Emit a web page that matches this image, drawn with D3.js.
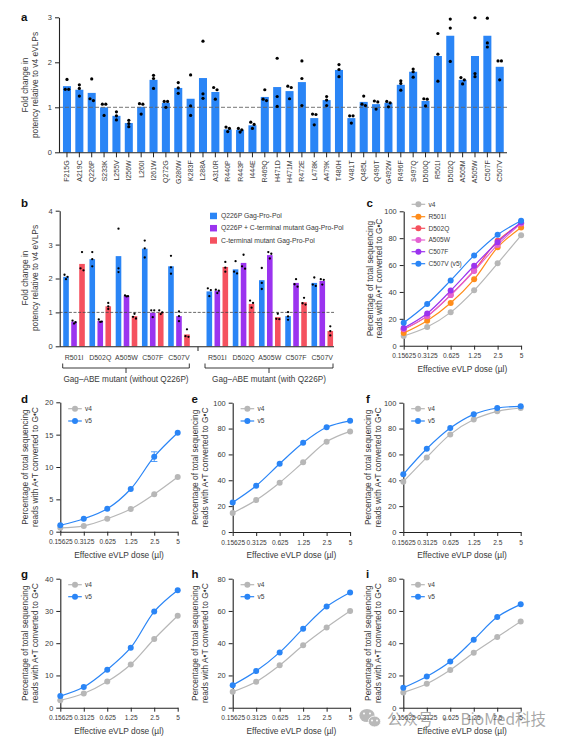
<!DOCTYPE html>
<html><head><meta charset="utf-8">
<script src="https://cdn.jsdelivr.net/npm/d3@7"></script>
<style>
html,body{margin:0;padding:0;background:#fff}
svg{display:block}
text{font-family:"Liberation Sans",Arial,sans-serif;fill:#3a3a3a}
</style></head><body>
<svg id="c" width="564" height="742"></svg>
<script>
// ---------- panel a ----------
const aVariants=["F215G","A219C","Q226P","S233K","L255V","I256W","L260I","I261W","Q272G","G280W","K283F","L288A","A310R","R440P","R443P","I444E","R469Q","H471D","H471M","R472E","L478K","A479K","T480H","V481T","Q485L","Q490T","G492W","R496F","S497Q","D500Q","R501I","D502Q","A505M","A505W","C507F","C507V"];
const aBars=[1.47,1.39,1.32,1.0,0.81,0.65,1.01,1.61,1.1,1.43,1.19,1.65,1.34,0.51,0.5,0.6,1.23,1.45,1.36,1.56,0.76,1.16,1.83,0.76,1.12,1.07,1.1,1.5,1.79,1.14,2.14,2.59,1.61,2.14,2.59,1.9];
const aPoints=[[1.62,1.40,1.40],[1.5,1.42,1.25],[1.63,1.19,1.15],[1.07,1.07,0.82],[0.9,0.81,0.72],[0.71,0.64,0.57],[1.08,1.07,0.85],[1.71,1.64,1.42],[1.13,1.13,1.0],[1.55,1.43,1.31],[1.72,1.03,0.82],[2.47,1.3,1.2],[1.44,1.39,1.18],[0.56,0.53,0.46],[0.53,0.5,0.45],[0.67,0.62,0.53],[1.39,1.18,1.15],[2.09,1.24,1.02],[1.47,1.44,1.19],[2.03,1.64,1.04],[0.85,0.84,0.61],[1.24,1.16,1.04],[1.95,1.84,1.68],[0.81,0.81,0.65],[1.25,1.07,1.04],[1.14,1.12,0.96],[1.13,1.10,1.01],[1.59,1.53,1.38],[1.85,1.79,1.67],[1.19,1.18,1.03],[2.64,2.18,1.58],[2.96,2.76,2.02],[1.66,1.61,1.52],[2.99,1.75,1.68],[2.98,2.43,2.34],[2.03,2.03,1.61]];
const aTicks=[0,1,2,3];
// ---------- panel b ----------
const bVariants=["R501I","D502Q","A505W","C507F","C507V"];
const bSeriesNames=["Q226P Gag-Pro-Pol","Q226P + C-terminal mutant Gag-Pro-Pol","C-terminal mutant Gag-Pro-Pol"];
const bColors=["#2a85f6","#9b33ef","#f5515f"];
const bBarsWithout=[[2.05,0.73,2.43],[2.57,0.75,1.18],[2.66,1.49,0.89],[2.88,0.99,1.0],[2.36,0.89,0.35]];
const bBarsWith=[[1.62,1.64,2.34],[2.27,2.46,1.25],[1.95,2.69,0.86],[0.89,1.87,1.3],[1.87,1.93,0.45]];
const bPointsWithout=[[[2.11,2.05,1.98],[0.76,0.71,0.67],[2.78,2.3,2.24]],[[2.78,2.57,2.36],[0.79,0.73,0.72],[1.28,1.18,1.1]],[[3.47,2.3,2.19],[1.5,1.48,1.47],[0.96,0.87,0.82]],[[3.12,2.89,2.62],[1.06,1.06,0.86],[1.06,1.0,0.95]],[[2.67,2.33,2.14],[1.03,0.89,0.74],[0.5,0.3,0.28]]];
const bPointsWith=[[[1.71,1.66,1.48],[1.67,1.64,1.57],[2.49,2.32,2.2]],[[2.51,2.2,2.15],[2.7,2.36,2.29],[1.35,1.28,1.14]],[[2.31,1.87,1.69],[2.78,2.73,2.59],[0.96,0.81,0.8]],[[1.01,0.88,0.78],[1.98,1.83,1.76],[1.43,1.27,1.23]],[[2.03,1.82,1.78],[1.98,1.96,1.82],[0.59,0.45,0.32]]];
const bTicks=[0,1,2,3,4];
const bGroupTitles=["Gag–ABE mutant (without Q226P)","Gag–ABE mutant (with Q226P)"];
// ---------- line panels ----------
const doses=["0.15625","0.3125","0.625","1.25","2.5","5"];
const cNames=["v4","R501I","D502Q","A505W","C507F","C507V (v5)"];
const cColors=["#b7b7b7","#ff8c1a","#f5515f","#e461d2","#9b33ef","#2a85f6"];
const cValues=[[7.2,13.9,24.8,41.2,61.3,82.1],[9.4,18.6,31.8,49.4,73.2,88],[12,22,37.7,56,78,91],[12.4,22,37.7,55.6,75,91],[13.2,24,41,59.5,77,91.8],[17,31,48.6,67.2,82.6,93]];
const v4v5Names=["v4","v5"];
const v4v5Colors=["#b7b7b7","#2a85f6"];
const dV4=[0.6,0.9,2,3.5,5.8,8.45], dV5=[1.0,2,3.55,6.6,11.6,15.3];
const dErrV5=[0,0,0,0,0.75,0];
const eV4=[14.7,24.7,38.1,53.9,69.8,77.8], eV5=[22.9,35.8,52.8,69,81,86];
const fV4=[38.9,57.7,75.5,87,93.3,95.9], fV5=[44.6,64.4,80.4,91,95.9,97.2];
const gV4=[2.3,4.4,8.1,13.4,21.3,28.5], gV5=[3.6,6.4,11.8,18.6,29.8,36.4];
const hV4=[9.9,16.1,26.3,38.7,49.8,59.9], hV5=[14,22.7,34.3,49,62.7,71.5];
const iV4=[9.5,14.9,23.4,34.1,43.8,53.5], iV5=[12.4,19.4,28.7,42.2,56.2,64.1];
const ticks20=[0,5,10,15,20], ticks100=[0,20,40,60,80,100], ticks40=[0,10,20,30,40], ticks80=[0,20,40,60,80];

const svg=d3.select("#c");
const INK="#222";
const blue=bColors[0];
const TITLE=8.4;

function styleAxis(g,size){
  g.selectAll("path.domain").attr("stroke",INK).attr("stroke-width",1.1);
  g.selectAll(".tick line").attr("stroke",INK).attr("stroke-width",1);
  g.selectAll("text").attr("font-size",size).style("fill","#3a3a3a");
  g.attr("font-family",null);
}
function label(t,x,y){svg.append("text").attr("x",x).attr("y",y).attr("font-size",11.5).attr("font-weight","bold").style("fill","#111").text(t);}
function yTitle(lines,x0,cy,gap){
  lines.forEach((s,i)=>svg.append("text").attr("transform",`translate(${x0+i*gap},${cy}) rotate(-90)`)
    .attr("text-anchor","middle").attr("font-size",TITLE).text(s));
}
// keeps near-equal replicate points side by side
function spread(vals,yS,off){
  const s=vals.map(v=>({v,dx:0}));
  for(let i=0;i<s.length-1;i++){
    if(s[i].dx===0&&Math.abs(yS(s[i].v)-yS(s[i+1].v))<2.6){s[i].dx=-off;s[i+1].dx=off;i++;}
  }
  return s;
}

// ---- a ----
(function(){
  const y=d3.scaleLinear().domain([0,3]).range([152.3,17.3]);
  const x=d3.scaleBand().domain(aVariants).range([60.8,505.9]).paddingInner(0.35).paddingOuter(0.175);
  svg.append("g").selectAll("rect").data(aVariants).join("rect")
    .attr("x",d=>x(d)).attr("width",x.bandwidth()).attr("y",(d,i)=>y(aBars[i])).attr("height",(d,i)=>y(0)-y(aBars[i])).attr("fill",blue);
  svg.append("line").attr("x1",59).attr("x2",507).attr("y1",y(1)).attr("y2",y(1)).attr("stroke","#666").attr("stroke-width",.9).attr("stroke-dasharray","4 2");
  aVariants.forEach((d,i)=>{
    svg.append("g").selectAll("circle").data(spread(aPoints[i],y,1.7)).join("circle")
      .attr("cx",p=>x(d)+x.bandwidth()/2+p.dx).attr("cy",p=>y(p.v)).attr("r",1.6).attr("fill","#000");
  });
  const gy=svg.append("g").attr("transform","translate(59,0)").call(d3.axisLeft(y).tickValues(aTicks).tickSize(4).tickSizeOuter(0).tickFormat(d3.format("d")));
  styleAxis(gy,7.5);
  const gx=svg.append("g").attr("transform","translate(0,152.3)").call(d3.axisBottom(x).tickSize(5).tickSizeOuter(0));
  styleAxis(gx,7);
  gx.select("path.domain").attr("d","M59,0.5H507");
  gx.selectAll(".tick text").attr("transform","rotate(-90)").attr("text-anchor","end").attr("x",-8).attr("y",0).attr("dy","0.35em");
  yTitle(["Fold change in","potency relative to v4 eVLPs"],28,85,10);
  label("a",21,21);
})();

// ---- b ----
(function(){
  const y=d3.scaleLinear().domain([0,4]).range([346.3,210.7]);
  const x1=d3.scaleBand().domain(bVariants).range([60.9,192.1]);
  const x2=d3.scaleBand().domain(bVariants).range([204.2,335.4]);
  const inner=d3.scaleBand().domain(d3.range(3)).range([-10.8,10.8]).paddingInner(0.3).paddingOuter(0);
  [[x1,bBarsWithout],[x2,bBarsWith]].forEach(([x,bars])=>{
    bVariants.forEach((v,i)=>{
      const c=x(v)+x.bandwidth()/2;
      d3.range(3).forEach(s=>{
        svg.append("rect").attr("x",c+inner(s)).attr("width",inner.bandwidth()).attr("y",y(bars[i][s])).attr("height",y(0)-y(bars[i][s])).attr("fill",bColors[s]);
      });
    });
  });
  svg.append("line").attr("x1",59.7).attr("x2",334).attr("y1",y(1)).attr("y2",y(1)).attr("stroke","#444").attr("stroke-width",.8).attr("stroke-dasharray","3 1.6");
  [[x1,bPointsWithout],[x2,bPointsWith]].forEach(([x,pts])=>{
    bVariants.forEach((v,i)=>{
      const c=x(v)+x.bandwidth()/2;
      d3.range(3).forEach(s=>{
        svg.append("g").selectAll("circle").data(spread(pts[i][s],y,1.5)).join("circle")
          .attr("cx",p=>c+inner(s)+inner.bandwidth()/2+p.dx).attr("cy",p=>y(p.v)).attr("r",1.15).attr("fill","#000");
      });
    });
  });
  const gy=svg.append("g").attr("transform","translate(59.7,0)").call(d3.axisLeft(y).tickValues(bTicks).tickSize(4).tickSizeOuter(0).tickFormat(d3.format("d")));
  styleAxis(gy,7.5);
  svg.append("line").attr("x1",59.7).attr("x2",334).attr("y1",346.8).attr("y2",346.8).attr("stroke",INK).attr("stroke-width",1.1);
  svg.append("line").attr("x1",198).attr("x2",198).attr("y1",346.8).attr("y2",351).attr("stroke",INK).attr("stroke-width",1);
  [x1,x2].forEach(x=>{
    bVariants.forEach(v=>svg.append("text").attr("x",x(v)+x.bandwidth()/2).attr("y",359.5).attr("text-anchor","middle").attr("font-size",7).text(v));
  });
  [[62.7,189.3],[205,333]].forEach((r,i)=>{
    svg.append("path").attr("d",`M${r[0]},363.5V368H${r[1]}V363.5`).attr("fill","none").attr("stroke",INK).attr("stroke-width",.9);
    const m=(r[0]+r[1])/2;
    svg.append("line").attr("x1",m).attr("x2",m).attr("y1",368).attr("y2",373).attr("stroke",INK).attr("stroke-width",.9);
    svg.append("text").attr("x",m).attr("y",382).attr("text-anchor","middle").attr("font-size",8.2).text(bGroupTitles[i]);
  });
  yTitle(["Fold change in","potency relative to v4 eVLPs"],28,278,10);
  const ly=d3.scalePoint().domain(bSeriesNames).range([215.7,240.2]);
  bSeriesNames.forEach((n,i)=>{
    svg.append("rect").attr("x",210).attr("y",ly(n)-3).attr("width",7).attr("height",6.5).attr("fill",bColors[i]);
    svg.append("text").attr("x",221).attr("y",ly(n)+2.3).attr("font-size",6.8).text(n);
  });
  label("b",21,207);
})();

// ---- line panels ----
function linePanel(o){
  const y=d3.scaleLinear().domain([0,o.max]).range([o.bottom,o.top]);
  const x=d3.scalePoint().domain(doses).range([o.left,o.left+117.4]);
  const line=d3.line().x((d,i)=>x(doses[i])).y(d=>y(d)).curve(d3.curveCatmullRom.alpha(0.5));
  const gy=svg.append("g").attr("transform",`translate(${o.left},0)`).call(d3.axisLeft(y).tickValues(o.ticks).tickSize(4).tickSizeOuter(0));
  styleAxis(gy,7.4);
  const gx=svg.append("g").attr("transform",`translate(0,${o.bottom})`).call(d3.axisBottom(x).tickSize(4).tickSizeOuter(0));
  styleAxis(gx,6.6);
  gx.selectAll(".tick text").attr("y",8);
  o.series.forEach((s,k)=>{
    svg.append("path").attr("d",line(s)).attr("fill","none").attr("stroke",o.colors[k]).attr("stroke-width",1.2);
    svg.append("g").selectAll("circle").data(s).join("circle")
      .attr("cx",(d,i)=>x(doses[i])).attr("cy",d=>y(d)).attr("r",3).attr("fill",o.colors[k]);
    if(o.errs&&o.errs[k]) o.errs[k].forEach((e,i)=>{
      if(!e)return;
      const cx=x(doses[i]);
      svg.append("path").attr("d",`M${cx-3.2},${y(s[i]+e)}H${cx+3.2}M${cx},${y(s[i]+e)}V${y(s[i]-e)}M${cx-3.2},${y(s[i]-e)}H${cx+3.2}`)
        .attr("fill","none").attr("stroke",o.colors[k]).attr("stroke-width",.8);
    });
  });
  svg.append("text").attr("x",o.left+58.7).attr("y",o.bottom+26).attr("text-anchor","middle").attr("font-size",TITLE).text("Effective eVLP dose (µl)");
  yTitle(["Percentage of total sequencing","reads with A•T converted to G•C"],o.titleX,(o.top+o.bottom)/2,o.titleGap||10);
  const lx=o.left+14.7;
  o.names.forEach((n,k)=>{
    const ly=o.legendY[k];
    svg.append("line").attr("x1",lx-6.8).attr("x2",lx+6.8).attr("y1",ly).attr("y2",ly).attr("stroke",o.colors[k]).attr("stroke-width",1.2);
    svg.append("circle").attr("cx",lx).attr("cy",ly).attr("r",3).attr("fill",o.colors[k]);
    svg.append("text").attr("x",lx+10).attr("y",ly+2.4).attr("font-size",6.6).text(n);
  });
  label(o.tag,o.tagX,o.tagY);
}
const legendTop=[408.7,421], legendBottom=[584.7,596.7];
linePanel({tag:"c",tagX:366.5,tagY:207,left:403.7,top:211.3,bottom:345.7,max:100,ticks:ticks100,series:cValues,colors:cColors,names:cNames,legendY:[204.3,216.7,228.3,240,251.7,263.7],titleX:373,titleGap:9});
linePanel({tag:"d",tagX:21,tagY:403,left:60.3,top:402.3,bottom:531.7,max:20,ticks:ticks20,series:[dV4,dV5],errs:[null,dErrV5],colors:v4v5Colors,names:v4v5Names,legendY:legendTop,titleX:28});
linePanel({tag:"e",tagX:191.5,tagY:403,left:232.7,top:402.7,bottom:532,max:100,ticks:ticks100,series:[eV4,eV5],colors:v4v5Colors,names:v4v5Names,legendY:legendTop,titleX:198});
linePanel({tag:"f",tagX:366,tagY:403,left:403.3,top:402.7,bottom:532,max:100,ticks:ticks100,series:[fV4,fV5],colors:v4v5Colors,names:v4v5Names,legendY:legendTop,titleX:371});
linePanel({tag:"g",tagX:21,tagY:578,left:60.3,top:578.7,bottom:707.7,max:40,ticks:ticks40,series:[gV4,gV5],colors:v4v5Colors,names:v4v5Names,legendY:legendBottom,titleX:28});
linePanel({tag:"h",tagX:191.5,tagY:578,left:232.7,top:578.7,bottom:707.7,max:80,ticks:ticks80,series:[hV4,hV5],colors:v4v5Colors,names:v4v5Names,legendY:legendBottom,titleX:198});
linePanel({tag:"i",tagX:366,tagY:578,left:403.3,top:578.7,bottom:707.7,max:80,ticks:ticks80,series:[iV4,iV5],colors:v4v5Colors,names:v4v5Names,legendY:legendBottom,titleX:371});

// ---- watermark ----
(function(){
  const w=svg.append("g").attr("opacity",.62);
  w.append("ellipse").attr("cx",367).attr("cy",715.5).attr("rx",7.6).attr("ry",6.6).attr("fill","#8f8f8f");
  w.append("ellipse").attr("cx",374.5).attr("cy",721.5).attr("rx",6.2).attr("ry",5.4).attr("fill","#8f8f8f").attr("stroke","#fff").attr("stroke-width",.8);
  [[364,713.5],[370,713.5],[372,720.5],[377,720.5]].forEach(p=>w.append("circle").attr("cx",p[0]).attr("cy",p[1]).attr("r",1).attr("fill","#fff"));
  svg.append("text").attr("x",387).attr("y",725).attr("font-size",15.5).style("font-family","'Noto Sans CJK SC'").style("fill","rgba(110,110,110,.6)").text("公众号 ·");
  svg.append("text").attr("x",546).attr("y",725).attr("text-anchor","end").attr("font-size",15.5).style("font-family","'Noto Sans CJK SC'").style("fill","rgba(110,110,110,.6)").text("BioMed科技");
})();
</script>
</body></html>
